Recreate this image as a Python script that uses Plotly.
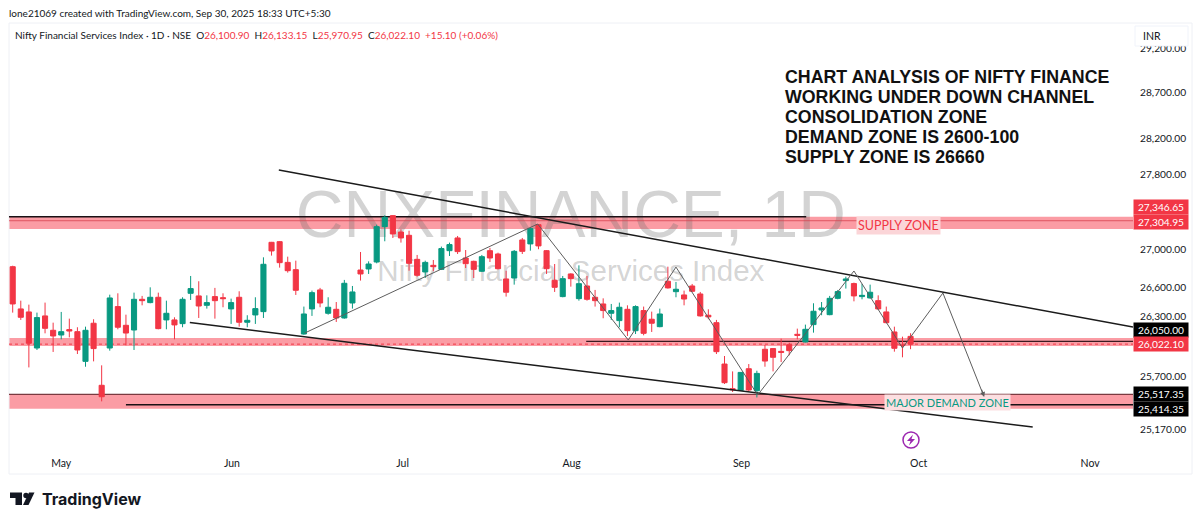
import math
import plotly.graph_objects as go

# daily candles, May to 30 Sep 2025
opens = [26820,26382,26351,25983,26310,26163,26115,26170,26149,25848,
         26235,25608,25983,26406,26214,26166,26481,26447,26502,26269,
         26269,26231,26543,26516,26419,26509,26498,26382,26502,26245,
         26320,26354,27076,27083,26865,26789,26125,26382,26578,26337,
         26378,26289,26443,26785,26796,26869,27242,27359,27185,27150,
         26897,26765,26834,26792,26988,27122,26911,26876,26772,26988,
         26953,26692,26702,27101,27059,27263,26988,26678,26509,26744,
         26488,26619,26502,26433,26337,26262,26378,26159,26365,26276,
         26200,26668,26560,26526,26619,26536,26317,26241,25821,25574,
         25557,25774,25554,25970,25977,25949,26017,26122,26044,26221,
         26371,26323,26491,26675,26644,26509,26495,26467,26351,26146,
         26014,26100.9]
highs = [26830,26467,26426,26344,26447,26241,26351,26282,26194,26200,
         26276,25808,26529,26543,26323,26550,26516,26605,26550,26467,
         26296,26502,26723,26668,26522,26599,26543,26488,26564,26317,
         26502,26918,27080,27090,26925,26883,26406,26571,26599,26502,
         26453,26682,26619,26974,26876,27263,27363,27363,27214,27199,
         26943,26883,26890,27031,27073,27143,26995,26883,26943,27017,
         26967,26778,26995,27122,27235,27270,26995,26848,26723,26751,
         26834,26723,26578,26491,26433,26447,26419,26419,26406,26354,
         26385,26820,26661,26571,26640,26557,26378,26269,25902,25747,
         25741,25821,25754,26014,25980,26078,26037,26180,26221,26440,
         26453,26516,26578,26716,26654,26640,26633,26522,26406,26200,
         26098,26133.15]
lows = [26344,26269,25787,25963,26132,25943,26071,26091,25922,25794,
        25848,25448,25956,26173,26010,25963,26419,26440,26173,26173,
        26071,26194,26474,26289,26385,26282,26399,26228,26200,26194,
        26228,26289,26936,26810,26758,26526,26118,26310,26399,26323,
        26248,26282,26385,26675,26744,26855,27087,27122,27073,26778,
        26716,26702,26772,26785,26932,26953,26806,26702,26765,26869,
        26792,26509,26633,26953,26988,27003,26744,26557,26502,26612,
        26467,26467,26406,26286,26269,26194,26105,26125,26112,26146,
        26194,26592,26502,26419,26557,26303,26276,25922,25621,25541,
        25551,25547,25487,25794,25747,25841,25909,26071,26040,26139,
        26317,26317,26481,26592,26460,26481,26488,26371,26235,25946,
        25889,25970.95]
closes = [26433,26296,26031,26293,26183,26105,26149,26156,25963,26163,
          25977,25494,26495,26194,26135,26481,26467,26502,26180,26337,
          26218,26481,26592,26412,26447,26467,26488,26447,26245,26265,
          26385,26845,26985,26862,26778,26574,26330,26550,26443,26399,
          26289,26647,26557,26744,26848,27242,27341,27164,27122,26855,
          26730,26865,26820,27010,27052,26978,26851,26792,26925,26911,
          26799,26554,26981,26981,27221,27038,26799,26605,26695,26695,
          26643,26481,26467,26365,26365,26399,26159,26406,26132,26235,
          26330,26599,26585,26484,26564,26310,26300,25946,25634,25564,
          25737,25561,25727,25851,25889,25939,25956,26112,26173,26358,
          26392,26491,26561,26692,26516,26522,26554,26382,26241,25980,
          26010,26022.1]

month_pos = [6, 27.1, 48.2, 69.1, 90.1, 112, 133.2]
month_names = ["May", "Jun", "Jul", "Aug", "Sep", "Oct", "Nov"]
price_ticks = [25170, 25700, 26300, 26600, 27000, 27800, 28200, 28700, 29200]

# channel and swing drawings
upper_x = [32.9, 138.5]
upper_y = [27850, 26196]
lower_x = [21.9, 126.1]
lower_y = [26242, 25195]
swing_x = [36.1, 64.9, 76.1, 82.0, 92.1, 104.0, 110.0, 115.0, 120.1]
swing_y = [26135, 27270, 26064, 26816, 25511, 26775, 25983, 26546, 25491]

# zones: low, high
supply_zone = [27217, 27346.65]
mid_zone = [26003, 26084]
demand_zone = [25375, 25517.35]

analysis = ["CHART ANALYSIS OF NIFTY FINANCE", "WORKING UNDER DOWN CHANNEL",
            "CONSOLIDATION ZONE", "DEMAND ZONE IS 2600-100", "SUPPLY ZONE IS 26660"]
analysis_y = [77, 97, 117, 137, 157]

RED = "#f23645"
GREEN = "#089981"
BAND = "#fb9ca4"
INK = "#131722"
FONT = "Lato"

# plot box in page pixels
L, R, T, B = 9, 1133, 23, 450
XR = [-0.457, 138.5]
YR = [math.log10(24970), math.log10(29493)]


def px(x):
    return (x - L) / (R - L)


def py(y):
    return (B - y) / (B - T)


days = list(range(len(opens)))

fig = go.Figure()

# watermark sits on the base axis so the candles stay on top of it
fig.add_trace(go.Scatter(x=[69], y=[27310], mode="text", text=["CNXFINANCE, 1D"],
                         textposition="middle center", yaxis="y",
                         textfont=dict(family="Liberation Sans", size=66, color="rgba(110,110,110,0.3)")))
fig.add_trace(go.Scatter(x=[69], y=[26745], mode="text", text=["Nifty Financial Services Index"],
                         textposition="middle center", yaxis="y",
                         textfont=dict(family="Liberation Sans", size=29.5, color="rgba(110,110,110,0.3)")))

# zone lines under the candles
for xs, price, col, w, dash in [
    ([XR[0], 98.1], 27346.65, "#1a1015", 1.5, "solid"),
    ([XR[0], XR[1]], 27304.95, "#d8434f", 0.8, "solid"),
    ([70.9, XR[1]], 26050, "#3a1a20", 1.3, "solid"),
    ([XR[0], XR[1]], 26022.1, RED, 1, "dot"),
    ([XR[0], XR[1]], 25517.35, "#7a3a40", 1.3, "solid"),
    ([14.0, XR[1]], 25414.35, "#1a1015", 1.3, "solid"),
]:
    fig.add_trace(go.Scatter(x=xs, y=[price, price], mode="lines", yaxis="y",
                             line=dict(color=col, width=w, dash=dash)))

fig.add_trace(go.Candlestick(
    x=days, open=opens, high=highs, low=lows, close=closes, yaxis="y2",
    whiskerwidth=0,
    increasing=dict(line=dict(color=GREEN, width=1), fillcolor=GREEN),
    decreasing=dict(line=dict(color=RED, width=1), fillcolor=RED),
))

fig.add_trace(go.Scatter(x=upper_x, y=upper_y, mode="lines", yaxis="y2", line=dict(color="#1b1b1b", width=1.5)))
fig.add_trace(go.Scatter(x=lower_x, y=lower_y, mode="lines", yaxis="y2", line=dict(color="#1b1b1b", width=1.5)))
fig.add_trace(go.Scatter(x=swing_x, y=swing_y, mode="lines", yaxis="y2", line=dict(color="#5d5d5d", width=1)))

shapes = []
for lo, hi in [supply_zone, mid_zone, demand_zone]:
    shapes.append(dict(type="rect", xref="paper", yref="y", x0=0, x1=1, y0=lo, y1=hi,
                       fillcolor=BAND, line_width=0, layer="below"))

# outer frame, INR box and the footer logo and lightning badge, in page pixels
shapes.append(dict(type="rect", xref="paper", yref="paper", x0=px(9), x1=px(1192), y0=py(474), y1=py(23),
                   line=dict(color="#eef0f5", width=1), layer="below"))
shapes.append(dict(type="rect", xref="paper", yref="paper", x0=px(1135), x1=px(1188), y0=py(46), y1=py(26),
                   fillcolor="white", line=dict(color="#f0f3fa", width=1), layer="above"))
shapes.append(dict(type="circle", xref="paper", yref="paper", x0=px(903), x1=px(919), y0=py(448), y1=py(432),
                   fillcolor="white", line=dict(color="#9c27b0", width=1.5), layer="above"))


def poly(points, color):
    d = "M " + " L ".join(f"{px(a):.5f} {py(b):.5f}" for a, b in points) + " Z"
    return dict(type="path", xref="paper", yref="paper", path=d, fillcolor=color, line_width=0, layer="above")


shapes.append(poly([(913, 434.5), (907, 441), (910.5, 441), (909, 445.5), (915, 439), (911.5, 439)], "#9c27b0"))
shapes.append(poly([(10, 492.5), (22, 492.5), (22, 505), (15.5, 505), (15.5, 498), (10, 498)], "#131722"))
shapes.append(poly([(29, 492.5), (34.5, 492.5), (28.5, 505), (23, 505)], "#131722"))
shapes.append(dict(type="circle", xref="paper", yref="paper", x0=px(23.3), x1=px(28.7), y0=py(498.2), y1=py(492.8),
                   fillcolor="#131722", line_width=0, layer="above"))


def note(x, y, text, size=10, color=INK, anchor="left", **kw):
    # annotations pad their box by 2px, so pull left-anchored text back
    if anchor == "left":
        x -= 2
    return dict(xref="paper", yref="paper", x=px(x), y=py(y), text=text, showarrow=False,
                xanchor=anchor, yanchor="middle", font=dict(family=kw.pop("family", FONT), size=size, color=color), **kw)


notes = [
    note(9, 13, "lone21069 created with TradingView.com, Sep 30, 2025 18:33 UTC+5:30"),
    note(15, 35, "Nifty Financial Services Index · 1D · NSE  "
                 f"O<span style='color:{RED}'>26,100.90</span>  H<span style='color:{RED}'>26,133.15</span>  "
                 f"L<span style='color:{RED}'>25,970.95</span>  C<span style='color:{RED}'>26,022.10</span>  "
                 f"<span style='color:{RED}'>+15.10 (+0.06%)</span>"),
    note(1143, 36, "INR", size=10.5),
    note(42, 499, "<b>TradingView</b>", size=16, family="Inter"),
    note(898, 225, "SUPPLY ZONE", size=12.5, color=RED, anchor="center", bgcolor="#fbd5d8", borderpad=1),
    note(948, 402, "MAJOR DEMAND ZONE", size=11, color=GREEN, anchor="center", bgcolor="#fcdfe1", borderpad=1),
]
for line, yy in zip(analysis, analysis_y):
    notes.append(note(785, yy, f"<b>{line}</b>", size=17.8, color="#111111", family="Liberation Sans"))

# price tags; the shift keeps neighbouring tags from overlapping
for price, txt, col, shift in [
    (27346.65, "27,346.65", RED, 10),
    (27304.95, "27,304.95", RED, -1),
    (26050, "26,050.00", "#000000", 11),
    (26022.1, "26,022.10", RED, 0),
    (25517.35, "25,517.35", "#000000", 0),
    (25414.35, "25,414.35", "#000000", -4),
]:
    notes.append(dict(xref="paper", yref="y", x=1, y=math.log10(price), yshift=shift, text=txt,
                      showarrow=False, xanchor="left", yanchor="middle", width=54, height=14, borderpad=0,
                      bgcolor=col, align="center", font=dict(family=FONT, size=10.2, color="white")))

# arrow tip of the projected swing
notes.append(dict(xref="x", yref="y2", x=swing_x[-1], y=math.log10(swing_y[-1]), ax=-3, ay=-9, text="",
                  showarrow=True, arrowhead=2, arrowsize=1, arrowwidth=1, arrowcolor="#5d5d5d"))

fig.update_layout(
    width=1200, height=524,
    margin=dict(l=L, r=1200 - R, t=T, b=524 - B, autoexpand=False),
    paper_bgcolor="white", plot_bgcolor="white",
    showlegend=False, hovermode=False, boxgap=0.1,
    shapes=shapes, annotations=notes,
    xaxis=dict(range=XR, rangeslider=dict(visible=False), showgrid=False, zeroline=False, showline=False,
               tickmode="array", tickvals=month_pos, ticktext=month_names, ticks="outside", ticklen=3,
               tickcolor="rgba(0,0,0,0)", tickfont=dict(family=FONT, size=10.5, color=INK)),
    yaxis=dict(type="log", range=YR, side="right", showgrid=False, zeroline=False, showline=False,
               tickmode="array", tickvals=price_ticks,
               ticktext=[f"{p:,.2f}" for p in price_ticks], ticks="outside", ticklen=4,
               tickcolor="rgba(0,0,0,0)", tickfont=dict(family=FONT, size=10.2, color=INK)),
    yaxis2=dict(type="log", range=YR, overlaying="y", side="right", visible=False),
)

fig.write_html("out.html", config=dict(displayModeBar=False), post_script="document.body.style.margin='0';")
